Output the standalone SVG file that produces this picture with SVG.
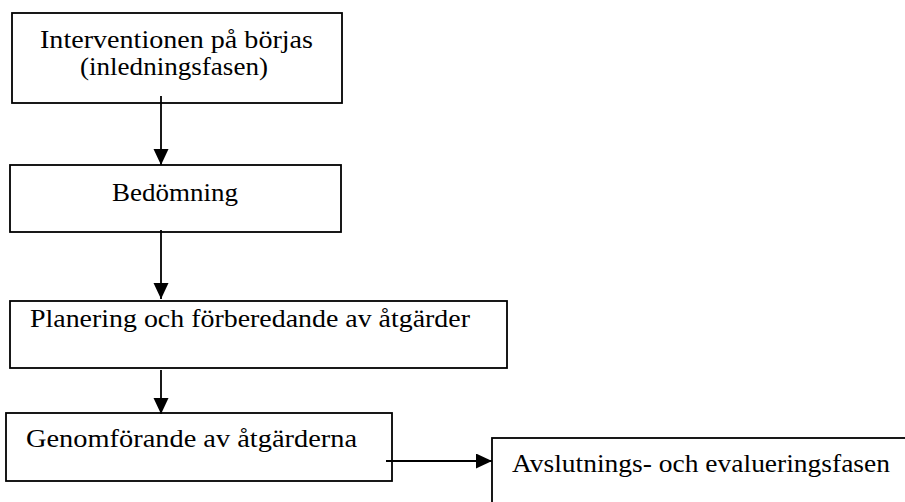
<svg xmlns="http://www.w3.org/2000/svg" width="905" height="502" viewBox="0 0 905 502">
  <style>
    .box { fill: #ffffff; stroke: #000000; stroke-width: 1.8; }
    .lbl { font-family: "Liberation Serif", "Times New Roman", serif; font-size: 26px; fill: #000000; }
    .edge { fill: none; stroke: #000000; stroke-width: 1.8; marker-end: url(#arrow); }
  </style>
  <defs>
    <marker id="arrow" markerUnits="userSpaceOnUse" markerWidth="16" markerHeight="16" refX="16" refY="7.5" orient="auto">
      <path d="M0,0 L16,7.5 L0,15 Z" fill="#000000"/>
    </marker>
  </defs>
  <rect width="905" height="502" fill="#ffffff"/>

  <g id="node-inledning">
    <rect class="box" x="12" y="13" width="330" height="90"/>
    <text class="lbl" x="40" y="48" textLength="273" lengthAdjust="spacingAndGlyphs">Interventionen på börjas</text>
    <text class="lbl" x="80" y="75" textLength="188" lengthAdjust="spacingAndGlyphs">(inledningsfasen)</text>
  </g>

  <g id="node-bedomning">
    <rect class="box" x="10" y="165" width="331" height="67"/>
    <text class="lbl" x="112" y="201" textLength="126" lengthAdjust="spacingAndGlyphs">Bedömning</text>
  </g>

  <g id="node-planering">
    <rect class="box" x="10" y="301" width="497" height="67"/>
    <text class="lbl" x="30" y="327" textLength="440" lengthAdjust="spacingAndGlyphs">Planering och förberedande av åtgärder</text>
  </g>

  <g id="node-genomforande">
    <rect class="box" x="6" y="413" width="386" height="68"/>
    <text class="lbl" x="26" y="447" textLength="331" lengthAdjust="spacingAndGlyphs">Genomförande av åtgärderna</text>
  </g>

  <g id="node-avslutning">
    <rect class="box" x="492" y="438" width="440" height="100"/>
    <text class="lbl" x="512" y="472" textLength="378" lengthAdjust="spacingAndGlyphs">Avslutnings- och evalueringsfasen</text>
  </g>

  <g id="connectors">
    <line class="edge" x1="161" y1="96" x2="161" y2="165"/>
    <line class="edge" x1="161" y1="230" x2="161" y2="299"/>
    <line class="edge" x1="161" y1="370" x2="161" y2="414"/>
    <line class="edge" x1="386" y1="461" x2="492" y2="461"/>
  </g>
</svg>
